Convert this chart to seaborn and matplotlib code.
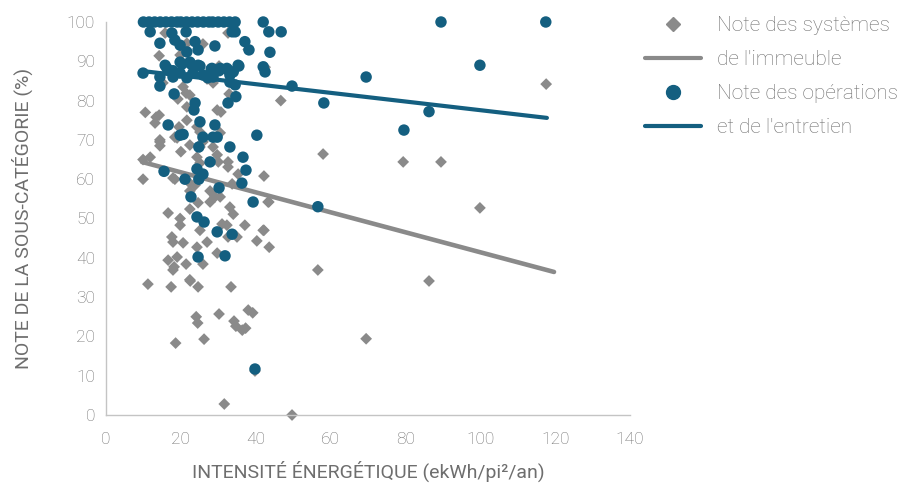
import numpy as np
import pandas as pd
import matplotlib
matplotlib.use("Agg")
import matplotlib.pyplot as plt
import seaborn as sns
from matplotlib.lines import Line2D

# --- Data ---
# Note des systèmes de l'immeuble (grey diamonds)
sys_x = [15.8, 32.6, 14.2, 19.8, 21.6, 25.9, 30.2, 28.6, 32.9, 46.7, 20.6, 19.2, 21.4, 22.4,
         15.2, 21.6, 29.7, 30.7, 14.2, 13.1, 21.6, 19.5, 18.4, 24.3, 25.1, 14.4, 30.5,
         14.4, 14.4, 19.0, 22.4, 20.0, 9.9, 11.8, 9.9, 18.4, 23.8, 22.4, 27.8, 29.1, 30.5,
         24.6, 27.8, 22.4, 16.6, 19.8, 19.8, 25.1, 33.1, 34.0, 31.0, 32.3, 37.1, 42.0, 35.0,
         32.6, 17.6, 17.9, 20.6, 27.0, 24.3, 29.7, 16.6, 19.0, 21.4, 18.2, 25.9, 22.4, 24.3,
         25.1, 29.7, 30.0, 32.6, 32.6, 35.3, 17.9, 22.4, 33.7, 25.1, 25.9, 28.6, 43.3,
         11.2, 17.4, 22.5, 24.6, 33.4, 24.1, 24.5, 30.2, 34.2, 34.7, 36.4, 37.3, 38.0, 39.2,
         18.6, 26.2, 31.6, 17.9, 117.6, 58.0, 79.4, 89.5, 42.2, 99.9, 43.5, 42.2, 40.3, 43.6,
         56.6, 86.3, 69.5, 39.8, 49.7, 13.4, 10.5, 27.0, 38.0, 42.5]
sys_y = [97.2, 97.2, 91.4, 91.6, 94.6, 94.4, 88.8, 84.5, 81.7, 80.0, 83.5, 80.4, 81.9, 81.4,
         84.5, 78.4, 77.6, 77.1, 76.3, 74.3, 75.0, 73.3, 70.7, 73.3, 72.0, 70.0, 71.8,
         69.5, 68.5, 70.5, 68.7, 67.0, 65.0, 65.6, 60.0, 60.0, 58.5, 57.0, 57.0, 55.5, 55.5,
         54.0, 54.2, 52.4, 51.4, 50.0, 48.3, 47.0, 52.9, 51.1, 48.6, 48.3, 48.3, 47.0, 45.3,
         45.3, 45.3, 44.0, 43.8, 44.0, 42.7, 41.2, 39.4, 40.2, 38.4, 37.7, 38.4, 34.4, 65.6,
         64.1, 66.2, 64.4, 64.4, 63.1, 61.3, 60.3, 59.0, 58.8, 68.2, 69.5, 68.2, 54.2,
         33.3, 32.6, 34.1, 32.6, 32.6, 25.0, 23.4, 25.7, 23.9, 22.6, 21.6, 22.1, 26.7, 26.0,
         18.3, 19.3, 2.8, 36.9, 84.2, 66.4, 64.4, 64.4, 60.8, 52.7, 54.2, 47.0, 44.3, 42.7,
         36.9, 34.1, 19.4, 11.2, 0.0, 75.8, 77.0, 85.5, 93.0, 88.5]

# Note des opérations et de l'entretien (blue circles)
ops_x = [10.0, 11.5, 13.0, 14.5, 16.0, 17.5, 19.0, 20.0, 21.5, 23.0, 24.5, 26.0, 27.5, 28.5,
         30.0, 31.5, 33.0, 34.5, 42.0, 89.5, 117.5,
         11.8, 17.6, 21.4, 33.7, 34.5, 43.5, 46.8,
         14.4, 18.4, 19.8, 23.8, 29.1, 37.1, 21.6, 24.6, 38.2, 43.8,
         9.9, 15.8, 14.4, 19.8, 22.4, 24.6, 28.3, 30.5, 32.3, 35.3, 34.0, 42.0, 42.5,
         16.3, 17.9, 20.3, 22.7, 25.1, 28.1, 30.2, 32.6, 35.5, 19.8, 23.2, 25.9, 28.6, 33.1, 17.9,
         49.7, 14.4, 18.2, 34.5, 34.7, 23.8, 23.5, 32.6, 16.6, 25.1, 29.1, 40.3, 19.8, 20.6,
         25.9, 28.6, 29.7, 21.6, 27.2, 33.1,
         24.8, 33.1, 36.6, 27.8, 24.3, 25.9, 37.4, 15.5, 21.1, 24.8, 36.3, 30.2, 22.7, 39.3,
         24.3, 26.2, 29.7, 33.7, 24.6, 31.8,
         99.9, 69.5, 58.2, 86.3, 79.6, 56.6, 39.8]
ops_y = [100, 100, 100, 100, 100, 100, 100, 100, 100, 100, 100, 100, 100, 100,
         100, 100, 100, 100, 100, 100, 100,
         97.5, 97.2, 97.5, 97.5, 97.5, 97.5, 97.5,
         94.6, 95.4, 94.1, 95.0, 93.9, 95.0, 92.4, 92.9, 92.9, 92.3,
         87.0, 89.0, 86.0, 89.8, 89.8, 89.0, 88.2, 88.2, 88.2, 89.0, 87.3, 88.6, 87.3,
         88.2, 87.6, 89.3, 89.3, 88.8, 88.0, 87.6, 87.8, 88.8, 87.0, 87.0, 86.5, 86.0, 86.5, 86.0,
         83.7, 83.7, 81.7, 84.0, 81.0, 79.4, 77.6, 79.4, 73.8, 74.6, 73.8, 71.2, 71.2, 71.4,
         70.7, 70.7, 70.7, 85.8, 85.8, 84.7,
         68.2, 68.2, 65.6, 64.4, 62.6, 61.3, 62.3, 62.0, 60.0, 60.0, 59.0, 57.8, 55.5, 54.2,
         50.4, 49.1, 46.6, 46.0, 40.2, 40.5,
         89.0, 86.0, 79.4, 77.2, 72.5, 53.0, 11.7]

# Trend lines (end points)
sys_trend_x = [9.6, 119.7]
sys_trend_y = [64.4, 36.4]
ops_trend_x = [9.9, 117.8]
ops_trend_y = [87.5, 75.6]

x_ticks = [0, 20, 40, 60, 80, 100, 120, 140]
y_ticks = [0, 10, 20, 30, 40, 50, 60, 70, 80, 90, 100]

GREY = '#8a8a8a'
BLUE = '#145f80'
TEXT = '#6e6e6e'
AXIS = '#c4c4c4'

sns.set_theme(style='white')
plt.rcParams['font.family'] = ['Roboto', 'DejaVu Sans']
plt.rcParams['font.weight'] = 'light'

sys_df = pd.DataFrame({'x': sys_x, 'y': sys_y})
ops_df = pd.DataFrame({'x': ops_x, 'y': ops_y})

fig = plt.figure(figsize=(9.07, 4.96), dpi=100)
ax = fig.add_axes([106 / 907, 1 - 415 / 496, 524 / 907, 393 / 496])

sns.scatterplot(data=sys_df, x='x', y='y', marker='D', s=36, color=GREY,
                edgecolor='none', ax=ax, clip_on=False, zorder=2)
sns.lineplot(x=sys_trend_x, y=sys_trend_y, color=GREY, linewidth=3.3, ax=ax, zorder=3)
sns.scatterplot(data=ops_df, x='x', y='y', marker='o', s=68, color=BLUE,
                edgecolor='none', ax=ax, clip_on=False, zorder=4)
sns.lineplot(x=ops_trend_x, y=ops_trend_y, color=BLUE, linewidth=3, ax=ax, zorder=5)

ax.set_xlim(0, 140)
ax.set_ylim(0, 100)
ax.set_xticks(x_ticks)
ax.set_yticks(y_ticks)
for side in ['top', 'right']:
    ax.spines[side].set_visible(False)
for side in ['left', 'bottom']:
    ax.spines[side].set_color(AXIS)
    ax.spines[side].set_linewidth(1)
ax.tick_params(axis='both', direction='in', length=4, width=1, color=AXIS,
               labelcolor=TEXT, labelsize=12.5, pad=8)
ax.tick_params(axis='x', pad=12)

ax.set_xlabel("INTENSITÉ ÉNERGÉTIQUE (ekWh/pi²/an)", color=TEXT, fontsize=14, labelpad=10)
ax.set_ylabel("NOTE DE LA SOUS-CATÉGORIE (%)", color=TEXT, fontsize=14, labelpad=24)

handles = [
    Line2D([], [], marker='D', color=GREY, linestyle='none', markersize=7),
    Line2D([], [], color=GREY, linewidth=3),
    Line2D([], [], marker='o', color=BLUE, linestyle='none', markersize=10),
    Line2D([], [], color=BLUE, linewidth=3),
]
labels = ["Note des systèmes", "de l'immeuble", "Note des opérations", "et de l'entretien"]
fig.legend(handles, labels, loc='upper left', bbox_to_anchor=(645 / 907, 1 - 16 / 496),
           frameon=False, fontsize=15, labelcolor=TEXT, handlelength=2.7,
           handletextpad=0.75, labelspacing=0.72, borderpad=0, borderaxespad=0)

fig.savefig('out.png', dpi=100, facecolor='white')
